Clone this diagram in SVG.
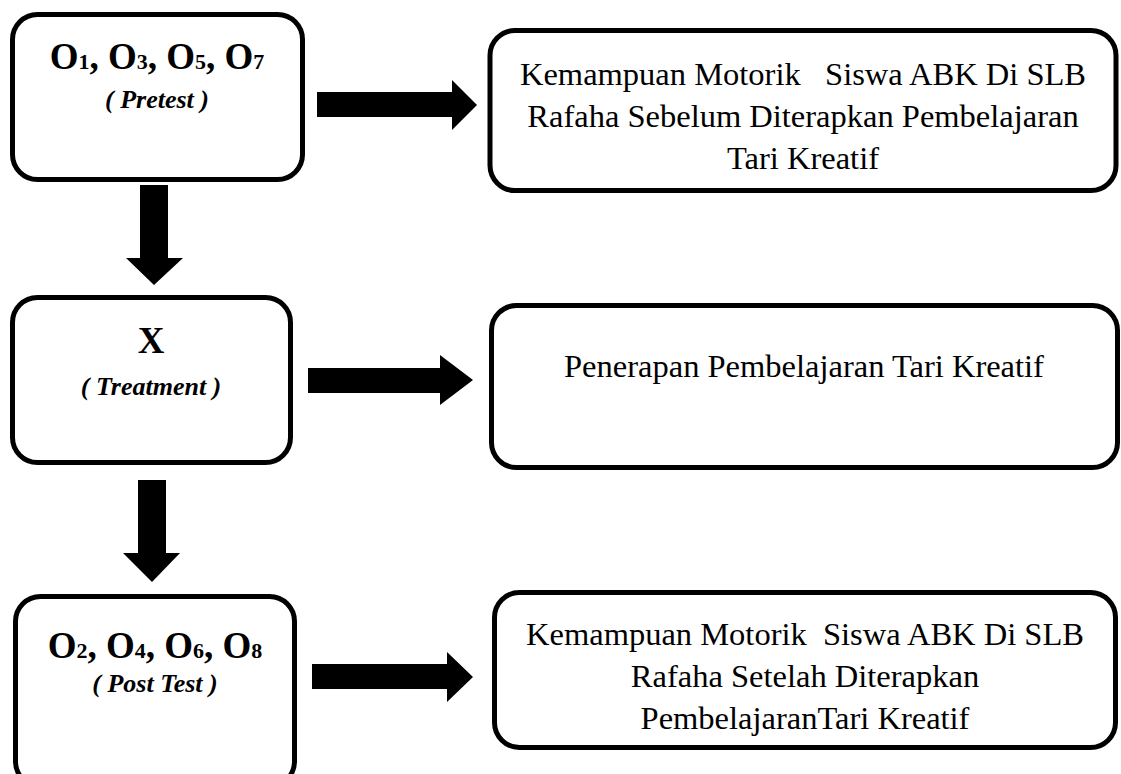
<svg xmlns="http://www.w3.org/2000/svg" width="1121" height="774" viewBox="0 0 1121 774">
<style>
.box{fill:#fff;stroke:#000;stroke-width:5}
.arr{fill:#000;stroke:none}
.t{font-family:"Liberation Serif","Times New Roman",serif;fill:#000;text-anchor:middle}
.big{font-size:37px;font-weight:bold}
.sub{font-size:22px}
.lab{font-size:26px;font-weight:bold;font-style:italic}
.body{font-size:32.5px;white-space:pre}
</style>
<rect width="1121" height="774" fill="#fff"/>
<g id="connectors">
<polygon class="arr" points="317,92 452,92 452,80 477,105 452,130 452,117 317,117"/>
<polygon class="arr" points="308,368 440,368 440,355 473,380 440,405 440,393 308,393"/>
<polygon class="arr" points="312,664 447,664 447,652 473,677 447,702 447,689 312,689"/>
<polygon class="arr" points="140,185 168,185 168,258 183,258 154,285 126,258 140,258"/>
<polygon class="arr" points="138,480 166,480 166,553 180,553 152,582 123,553 138,553"/>
</g>
<g id="pretest">
<rect class="box" x="12.5" y="14.5" width="290" height="165" rx="25"/>
<text class="t big" x="157" y="69">O<tspan class="sub">1</tspan>, O<tspan class="sub">3</tspan>, O<tspan class="sub">5</tspan>, O<tspan class="sub">7</tspan></text>
<text class="t lab" x="157" y="108">( Pretest )</text>
</g>
<g id="pretest-desc">
<rect class="box" x="490" y="30.5" width="626" height="160" rx="25"/>
<text class="t body" x="803" y="85">Kemampuan Motorik   Siswa ABK Di SLB</text>
<text class="t body" x="803" y="127">Rafaha Sebelum Diterapkan Pembelajaran</text>
<text class="t body" x="803" y="169">Tari Kreatif</text>
</g>
<g id="treatment">
<rect class="box" x="12.5" y="297.5" width="278" height="165" rx="25"/>
<text class="t big" x="151" y="353">X</text>
<text class="t lab" x="151" y="395">( Treatment )</text>
</g>
<g id="treatment-desc">
<rect class="box" x="491.5" y="305.5" width="626" height="162" rx="25"/>
<text class="t body" x="804" y="377">Penerapan Pembelajaran Tari Kreatif</text>
</g>
<g id="posttest">
<rect class="box" x="15.5" y="596.5" width="279" height="190" rx="25"/>
<text class="t big" x="155" y="658">O<tspan class="sub">2</tspan>, O<tspan class="sub">4</tspan>, O<tspan class="sub">6</tspan>, O<tspan class="sub">8</tspan></text>
<text class="t lab" x="155" y="692">( Post Test )</text>
</g>
<g id="posttest-desc">
<rect class="box" x="494.5" y="592.5" width="621" height="155" rx="25"/>
<text class="t body" x="805" y="645">Kemampuan Motorik  Siswa ABK Di SLB</text>
<text class="t body" x="805" y="687">Rafaha Setelah Diterapkan</text>
<text class="t body" x="805" y="729">PembelajaranTari Kreatif</text>
</g>
</svg>
